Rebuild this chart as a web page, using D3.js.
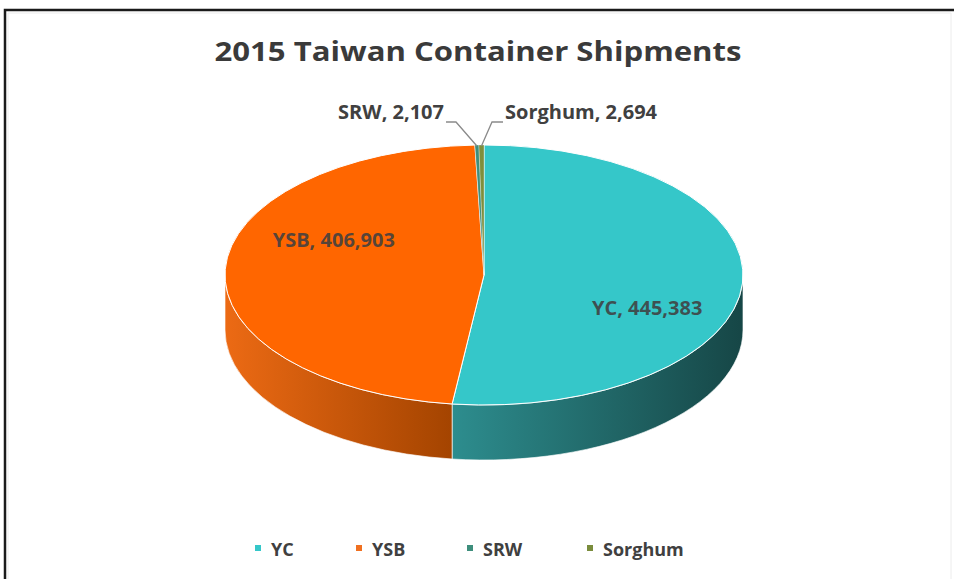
<!DOCTYPE html>
<html>
<head>
<meta charset="utf-8">
<script src="https://cdn.jsdelivr.net/npm/d3@7"></script>
<style>
  body { margin: 0; background: #fff; }
  svg { display: block; font-family: "Open Sans", sans-serif; }
</style>
</head>
<body>
<div id="chart"></div>
<script>
// data
const categories = ["YC", "YSB", "SRW", "Sorghum"];
const shipments = [445383, 406903, 2107, 2694];
const topColors = ["#35C7C9", "#FF6600", "#3E8E7C", "#7E8E3C"];
const sideLight = ["#2D8D8E", "#EC6A14", "#2E6E60", "#5E6E2C"];
const sideDark = ["#164646", "#A44400", "#1E4A40", "#404A1E"];
const legendColors = ["#35C7C9", "#F07020", "#3E8E7C", "#7A8C3C"];
const chartTitle = "2015 Taiwan Container Shipments";

const W = 954, H = 579;
const cx = 484, cy = 275, rx = 259, ry = 130, depth = 55;

const svg = d3.select("#chart").append("svg")
    .attr("width", W)
    .attr("height", H);

const defs = svg.append("defs");

// frame
svg.append("rect").attr("width", W).attr("height", H).attr("fill", "#fff");
svg.append("path")
    .attr("d", `M5,${H} L5,10 L${W},10`)
    .attr("fill", "none")
    .attr("stroke", "#1a1a1a")
    .attr("stroke-width", 2.5);
svg.append("path")
    .attr("d", `M8,${H} L8,13 L951,13 L951,${H}`)
    .attr("fill", "none")
    .attr("stroke", "#ececec")
    .attr("stroke-width", 1);

// title
svg.append("text")
    .attr("x", 478)
    .attr("y", 61)
    .attr("text-anchor", "middle")
    .attr("fill", "#3a3a3a")
    .style("font-size", "26px")
    .style("font-weight", 700)
    .attr("textLength", 527)
    .attr("lengthAdjust", "spacingAndGlyphs")
    .text(chartTitle);

// ellipse scales (unit circle -> screen)
const xs = d3.scaleLinear().domain([-1, 1]).range([cx - rx, cx + rx]);
const ys = d3.scaleLinear().domain([-1, 1]).range([cy - ry, cy + ry]);
const pt = (a, r = 1, dy = 0) => [xs(r * Math.sin(a)), ys(-r * Math.cos(a)) + dy];

const data = categories.map((c, i) => ({ name: c, value: shipments[i], i }));
const arcs = d3.pie().sort(null).value(d => d.value)
    .startAngle(0).endAngle(2 * Math.PI)(data);

function ellArc(from, to, sweep, dy) {
    const p = pt(to, 1, dy);
    const large = Math.abs(to - from) > Math.PI ? 1 : 0;
    return `A${rx},${ry} 0 ${large} ${sweep} ${p[0]},${p[1]}`;
}

// outer walls (only the front half is visible)
const walls = svg.append("g");
arcs.forEach(d => {
    const a0 = Math.max(d.startAngle, Math.PI / 2);
    const a1 = Math.min(d.endAngle, 3 * Math.PI / 2);
    if (a1 <= a0) return;
    const xA = pt(a0)[0], xB = pt(a1)[0];
    const g = defs.append("linearGradient")
        .attr("id", "side" + d.data.i)
        .attr("gradientUnits", "userSpaceOnUse")
        .attr("x1", Math.min(xA, xB)).attr("x2", Math.max(xA, xB))
        .attr("y1", 0).attr("y2", 0);
    g.append("stop").attr("offset", 0).attr("stop-color", sideLight[d.data.i]);
    g.append("stop").attr("offset", 1).attr("stop-color", sideDark[d.data.i]);
    const s = pt(a0), e = pt(a1, 1, depth);
    const path = `M${s[0]},${s[1]} ${ellArc(a0, a1, 1, 0)} L${e[0]},${e[1]} ${ellArc(a1, a0, 0, depth)} Z`;
    walls.append("path")
        .attr("d", path)
        .attr("fill", `url(#side${d.data.i})`)
        .attr("stroke", "#ffffff")
        .attr("stroke-width", 0.8)
        .attr("stroke-opacity", 0.8);
});

// top faces
const tops = svg.append("g");
arcs.forEach(d => {
    const s = pt(d.startAngle);
    const path = `M${cx},${cy} L${s[0]},${s[1]} ${ellArc(d.startAngle, d.endAngle, 1, 0)} Z`;
    tops.append("path")
        .attr("d", path)
        .attr("fill", topColors[d.data.i])
        .attr("stroke", "#ffffff")
        .attr("stroke-width", d.value > 10000 ? 1 : 0.3)
        .attr("stroke-linejoin", "round");
});

const fmt = d3.format(",");

// inside labels
const inside = { YC: [0.63, 0.25], YSB: [-0.58, -0.27] };
arcs.filter(d => inside[d.data.name]).forEach(d => {
    const off = inside[d.data.name];
    svg.append("text")
        .attr("x", xs(off[0]))
        .attr("y", ys(off[1]) + 7)
        .attr("text-anchor", "middle")
        .attr("fill", "#404040")
        .attr("fill-opacity", 0.88)
        .style("font-size", "20px")
        .style("font-weight", 700)
        .text(`${d.data.name}, ${fmt(d.value)}`);
});

// outside labels with leader lines
const labY = 119;
arcs.filter(d => !inside[d.data.name]).forEach(d => {
    const mid = (d.startAngle + d.endAngle) / 2;
    const tip = pt(mid, 1, 0);
    const left = d.data.name === "SRW";
    const lx = left ? 446 : 503;
    const knee = left ? 456 : 492;
    svg.append("path")
        .attr("d", `M${lx},${labY + 3} L${knee},${labY + 3} L${tip[0]},${tip[1] + 1}`)
        .attr("fill", "none")
        .attr("stroke", "#8a8a8a")
        .attr("stroke-width", 1.3);
    svg.append("text")
        .attr("x", left ? lx - 2 : lx + 2)
        .attr("y", labY)
        .attr("text-anchor", left ? "end" : "start")
        .attr("fill", "#404040")
        .style("font-size", "20px")
        .style("font-weight", 700)
        .text(`${d.data.name}, ${fmt(d.value)}`);
});

// legend
const legendX = [258, 359, 470, 590];
const legend = svg.append("g");
categories.forEach((c, i) => {
    legend.append("rect")
        .attr("x", legendX[i] - 3)
        .attr("y", 548 - 3)
        .attr("width", 6)
        .attr("height", 6)
        .attr("fill", legendColors[i]);
    legend.append("text")
        .attr("x", legendX[i] + 13)
        .attr("y", 556)
        .attr("fill", "#404040")
        .style("font-size", "18px")
        .style("font-weight", 700)
        .text(c);
});
</script>
</body>
</html>
